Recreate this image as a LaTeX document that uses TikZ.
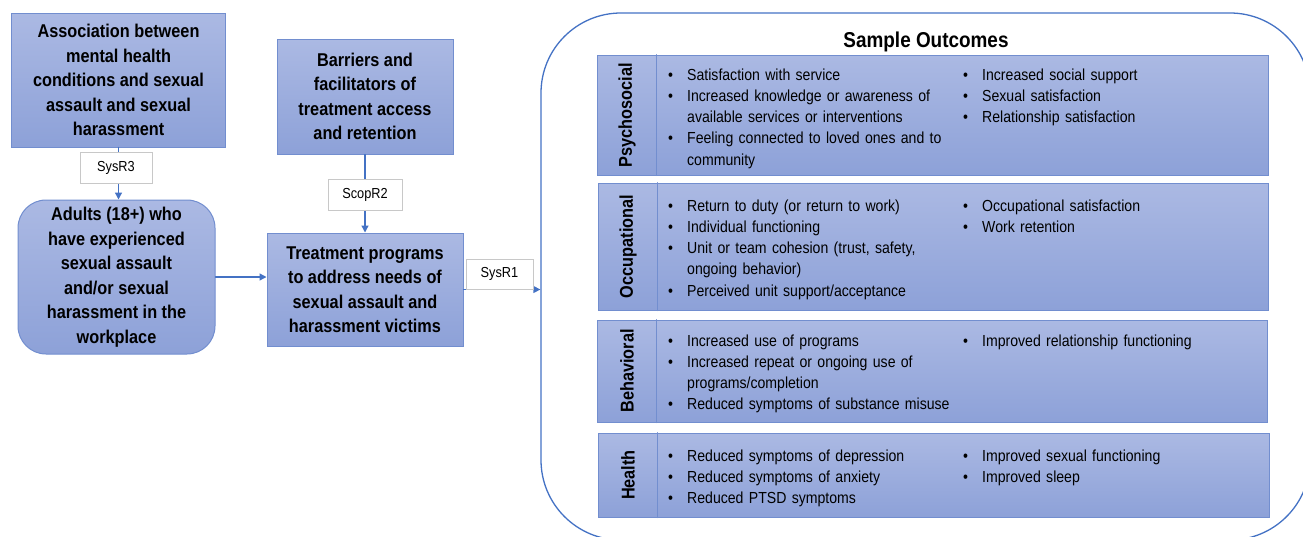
\documentclass[tikz,border=0pt]{standalone}
\usepackage{fontspec}
\setmainfont{Liberation Sans}[FakeStretch=0.88]
\usetikzlibrary{arrows.meta}
\definecolor{boxtop}{RGB}{171,185,227}
\definecolor{boxbot}{RGB}{141,161,216}
\definecolor{boxline}{RGB}{114,142,207}
\definecolor{linkblue}{RGB}{68,114,196}
\definecolor{tagline}{RGB}{200,200,200}
\newcommand{\bul}{\makebox[19pt][l]{\textbullet}}
\newcommand{\nob}{\hspace*{19pt}}
\begin{document}
\begin{tikzpicture}[x=1pt,y=-1pt,line cap=round]
	\tikzstyle{topic}=[draw=boxline,line width=1pt,top color=boxtop,bottom color=boxbot,align=center,inner sep=0pt,font=\fontsize{18.5}{24.5}\selectfont\bfseries];
	\tikzstyle{tag}=[draw=tagline,fill=white,line width=0.6pt,inner sep=0pt,font=\fontsize{14.5}{17}\selectfont];
	\tikzstyle{panel}=[draw=boxline,line width=1pt,top color=boxtop,bottom color=boxbot,inner sep=0pt];
	\tikzstyle{vlab}=[rotate=90,inner sep=0pt,font=\fontsize{18.5}{22}\selectfont\bfseries];
	\tikzstyle{items}=[anchor=base west,inner sep=0pt,text width=330pt,align=left,font=\fontsize{16}{21.25}\selectfont];
	\tikzstyle{conn}=[draw=linkblue,line width=1.3pt,-{Triangle[length=7pt,width=7pt]}];
	\useasboundingbox (0,0) rectangle (1303,536);
	\clip (0,0) rectangle (1303,536);

	\node[topic,minimum width=214pt,minimum height=134pt] (assoc) at (118.5,80)
		{Association between\\mental health\\conditions and sexual\\assault and sexual\\harassment};
	\node[topic,rounded corners=28pt,minimum width=197pt,minimum height=154pt] (adults) at (116.5,277)
		{Adults (18+) who\\have experienced\\sexual assault\\and/or sexual\\harassment in the\\workplace};
	\node[topic,minimum width=176pt,minimum height=115pt] (barriers) at (365,96.5)
		{Barriers and\\facilitators of\\treatment access\\and retention};
	\node[topic,minimum width=196pt,minimum height=113pt] (treat) at (365,289.5)
		{Treatment programs\\to address needs of\\sexual assault and\\harassment victims};

	\node[draw=linkblue,line width=1.3pt,rounded corners=80pt,minimum width=769pt,minimum height=527pt,inner sep=0pt] (outer) at (925.5,276.5) {};
	\node[anchor=base,inner sep=0pt,font=\fontsize{21.5}{26}\selectfont\bfseries] (title) at (926,47) {Sample Outcomes};

	\node[panel,minimum width=671pt,minimum height=120pt] (psy) at (932.5,115) {};
	\node[panel,minimum width=670pt,minimum height=127pt] (occ) at (933,246.5) {};
	\node[panel,minimum width=670pt,minimum height=102pt] (beh) at (932,371) {};
	\node[panel,minimum width=671pt,minimum height=84pt] (hea) at (933.5,475) {};
	\foreach \p in {psy,occ,beh,hea}
		\draw[boxline,line width=1pt] ([xshift=60pt]\p.north west) -- ([xshift=60pt]\p.south west);

	\node[vlab] (psylab) at (627,115) {Psychosocial};
	\node[vlab] (occlab) at (628,246.5) {Occupational};
	\node[vlab] (behlab) at (627,371) {Behavioral};
	\node[vlab] (healab) at (628,475) {Health};

	\node[items] (psyA) at (668,80) {\bul Satisfaction with service\\\bul Increased knowledge or awareness of\\\nob available services or interventions\\\bul Feeling connected to loved ones and to\\\nob community};
	\node[items] (psyB) at (963,80) {\bul Increased social support\\\bul Sexual satisfaction\\\bul Relationship satisfaction};
	\node[items] (occA) at (668,211) {\bul Return to duty (or return to work)\\\bul Individual functioning\\\bul Unit or team cohesion (trust, safety,\\\nob ongoing behavior)\\\bul Perceived unit support/acceptance};
	\node[items] (occB) at (963,211) {\bul Occupational satisfaction\\\bul Work retention};
	\node[items] (behA) at (668,346) {\bul Increased use of programs\\\bul Increased repeat or ongoing use of\\\nob programs/completion\\\bul Reduced symptoms of substance misuse};
	\node[items] (behB) at (963,346) {\bul Improved relationship functioning};
	\node[items] (heaA) at (668,461) {\bul Reduced symptoms of depression\\\bul Reduced symptoms of anxiety\\\bul Reduced PTSD symptoms};
	\node[items] (heaB) at (963,461) {\bul Improved sexual functioning\\\bul Improved sleep};

	\draw[conn] (assoc.south) -- (assoc.south |- adults.north);
	\draw[conn] (barriers.south) -- (treat.north);
	\draw[conn] (adults.east) -- (adults.east -| treat.west);
	\draw[conn] (treat.east) -- (treat.east -| outer.west);

	\node[tag,minimum width=72pt,minimum height=31pt] (sysr3) at (116,168) {SysR3};
	\node[tag,minimum width=74pt,minimum height=31pt] (scopr2) at (365,194.5) {ScopR2};
	\node[tag,minimum width=67pt,minimum height=30pt] (sysr1) at (499.5,274) {SysR1};
\end{tikzpicture}
\end{document}
